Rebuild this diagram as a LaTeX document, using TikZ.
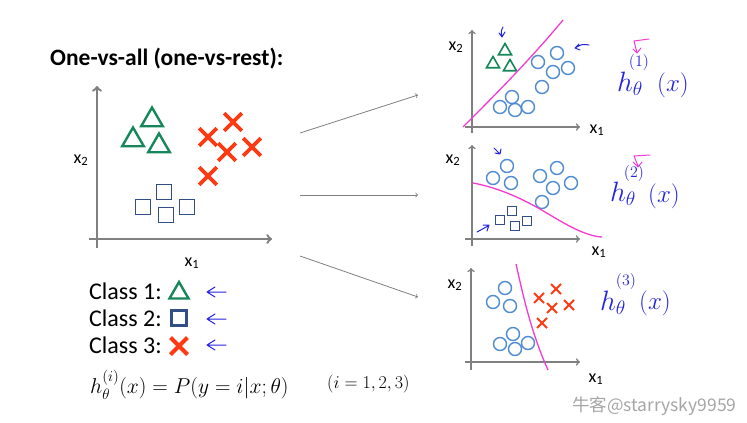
\RequirePackage{fix-cm}
\documentclass[tikz,border=0pt]{standalone}
\usepackage{amsmath}
\usepackage{fontspec}
\setmainfont{Carlito}
\newfontfamily\cjk{Noto Sans CJK SC}
\usetikzlibrary{shapes.geometric,shapes.misc}
\definecolor{axisgray}{RGB}{128,128,128}
\definecolor{trigreen}{RGB}{22,135,90}
\definecolor{crossred}{RGB}{255,58,18}
\definecolor{sqblue}{RGB}{50,78,135}
\definecolor{circblue}{RGB}{80,140,210}
\definecolor{bndpink}{RGB}{245,60,210}
\definecolor{penblue}{RGB}{35,35,225}

\begin{document}
\begin{tikzpicture}
[
	x=1pt, y=-1pt,
	axis/.style = {draw=axisgray, line width=2.4pt, ->},
	smallaxis/.style = {draw=axisgray, line width=1.6pt, ->},
	tri/.style = {regular polygon, regular polygon sides=3, draw=trigreen, line width=2.4pt, minimum size=25pt, inner sep=0pt},
	smalltri/.style = {regular polygon, regular polygon sides=3, draw=trigreen, line width=1.6pt, minimum size=15pt, inner sep=0pt},
	xmark/.style = {cross out, draw=crossred, line width=3.6pt, minimum size=14pt, inner sep=0pt},
	smallxmark/.style = {cross out, draw=crossred, line width=2pt, minimum size=8pt, inner sep=0pt},
	sq/.style = {rectangle, draw=sqblue, line width=1.8pt, minimum size=15pt, inner sep=0pt},
	smallsq/.style = {rectangle, draw=sqblue, line width=1.4pt, minimum size=9pt, inner sep=0pt},
	dot/.style = {circle, draw=circblue, line width=1.4pt, minimum size=13pt, inner sep=0pt},
	bound/.style = {bndpink, line width=1.3pt},
	pen/.style = {penblue, line width=1pt, line cap=round, line join=round},
	pinkpen/.style = {bndpink, line width=1pt, line cap=round, line join=round},
	lbl/.style = {font=\fontsize{18}{20}\selectfont, inner sep=0pt},
	cls/.style = {anchor=base west, inner sep=0pt, font=\fontsize{24}{26}\selectfont},
	hand/.style = {penblue, font=\fontsize{28}{30}\selectfont, inner sep=0pt},
	handx/.style = {penblue, font=\fontsize{25}{27}\selectfont, inner sep=0pt},
	handsup/.style = {penblue, font=\fontsize{16}{18}\selectfont, inner sep=0pt},
]
\useasboundingbox[fill=white] (0,0) rectangle (747,423);

% title
\node[anchor=base west, inner sep=0pt, font=\fontsize{23.5}{26}\selectfont\bfseries] (title) at (50,65) {One-vs-all (one-vs-rest):};

% main plot
\draw[axis] (97,248) -- (97,86);
\draw[axis] (89,239) -- (272,239);
\node[lbl, anchor=base] (mx1) at (192,266) {x\textsubscript{1}};
\node[lbl, anchor=base] (mx2) at (81,163) {x\textsubscript{2}};

\foreach \px/\py [count=\i] in {152/120,133/140,159/146}
	\node[tri] (t\i) at (\px,\py) {};
\foreach \px/\py [count=\i] in {208/137,233/122,227/152,252/147,208/176}
	\node[xmark] (c\i) at (\px,\py) {};
\foreach \px/\py [count=\i] in {143/207,164/192,166/215,187/207}
	\node[sq] (s\i) at (\px,\py) {};

% legend
\node[cls] (cls1) at (89,299) {Class 1:};
\node[cls] (cls2) at (89,326) {Class 2:};
\node[cls] (cls3) at (89,353) {Class 3:};
\node[tri, minimum size=22pt] (lt) at (179,293) {};
\node[sq, minimum size=15pt, line width=2.2pt] (ls) at (179,318) {};
\node[xmark, minimum size=13pt, line width=4pt] (lc) at (179,346) {};
\foreach \yy in {292,319,345}
	\draw[pen] (215,\yy-5) -- (207,\yy) -- (215,\yy+5) (208,\yy) -- (226,\yy);

\node[anchor=base west, inner sep=0pt, font=\fontsize{21.5}{24}\selectfont] (hyp) at (90,393) {$h_\theta^{(i)}(x) = P(y=i|x;\theta)$};
\node[anchor=base west, inner sep=0pt, font=\fontsize{18}{20}\selectfont] (idx) at (327,388) {$(i=1,2,3)$};

% arrows to the three classifiers
\coordinate (a1s) at (300,133);
\coordinate (a1e) at (418,95);
\coordinate (a2s) at (300,195);
\coordinate (a2e) at (418,195);
\coordinate (a3s) at (300,256);
\coordinate (a3e) at (418,297);
\draw[axisgray, line width=0.8pt, ->] (a1s) -- (a1e);
\draw[axisgray, line width=0.8pt, ->] (a2s) -- (a2e);
\draw[axisgray, line width=0.8pt, ->] (a3s) -- (a3e);

% classifier 1
\draw[smallaxis] (472,133) -- (472,30);
\draw[smallaxis] (465,127) -- (580,127);
\node[lbl, anchor=base] (ax2) at (456,50) {x\textsubscript{2}};
\node[lbl, anchor=base] (ax1) at (597,133) {x\textsubscript{1}};
\foreach \px/\py [count=\i] in {505/51,493/64,510/67}
	\node[smalltri] (at\i) at (\px,\py) {};
\foreach \px/\py [count=\i] in {557/53,538/62,553/72,568/68,542/87,512/97,500/107,515/110,528/107}
	\node[dot] (ad\i) at (\px,\py) {};
\coordinate (ab1) at (463,127);
\coordinate (ab2) at (563,20);
\draw[bound] (ab1) .. controls (490,100) and (530,60) .. (ab2);
\draw[pen] (503,27) .. controls (501,31) .. (502,37) (499,33) -- (502,37) -- (505,32);
\draw[pen] (589,45) .. controls (582,44) .. (575,48) (579,44) -- (575,48) -- (580,50);
\draw[pinkpen] (649,39) -- (634,41) -- (637,53) (633,49) -- (637,53) -- (641,48);
\node[hand] (h1) at (630,84) {$h_\theta$};
\node[handsup] (h1s) at (639,62) {$(1)$};
\node[handx] (h1x) at (673,85) {$(x)$};

% classifier 2
\draw[smallaxis] (472,246) -- (472,145);
\draw[smallaxis] (465,239) -- (580,239);
\node[lbl, anchor=base] (bx2) at (453,163) {x\textsubscript{2}};
\node[lbl, anchor=base] (bx1) at (599,255) {x\textsubscript{1}};
\foreach \px/\py [count=\i] in {507/166,493/178,511/183,557/168,540/176,553/188,571/183,542/202}
	\node[dot] (bd\i) at (\px,\py) {};
\foreach \px/\py [count=\i] in {512/211,500/220,515/226,527/221}
	\node[smallsq] (bs\i) at (\px,\py) {};
\coordinate (bb1) at (473,183);
\coordinate (bb2) at (602,237);
\draw[bound] (bb1) .. controls (500,188) and (525,200) .. (545,212) .. controls (565,224) and (585,236) .. (bb2);
\draw[pen] (494,148) .. controls (496,151) .. (499,153) (495,153) -- (500,154) -- (501,149);
\draw[pen] (477,232) -- (488,226) (483,225) -- (489,225) -- (487,231);
\draw[pinkpen] (650,155) -- (634,156) -- (638,166) (633,162) -- (638,167) -- (642,162);
\node[hand] (h2) at (623,194) {$h_\theta$};
\node[handsup] (h2s) at (634,173) {$(2)$};
\node[handx] (h2x) at (664,196) {$(x)$};

% classifier 3
\draw[smallaxis] (471,370) -- (471,268);
\draw[smallaxis] (465,362) -- (580,362);
\node[lbl, anchor=base] (cx2) at (455,288) {x\textsubscript{2}};
\node[lbl, anchor=base] (cx1) at (596,382) {x\textsubscript{1}};
\foreach \px/\py [count=\i] in {505/288,493/302,510/306,513/334,500/344,515/349,528/343}
	\node[dot] (cd\i) at (\px,\py) {};
\foreach \px/\py [count=\i] in {556/289,539/298,552/308,569/305,542/323}
	\node[smallxmark] (cc\i) at (\px,\py) {};
\coordinate (cb1) at (516,264);
\coordinate (cb2) at (548,370);
\draw[bound] (cb1) .. controls (522,290) and (530,330) .. (cb2);
\node[hand] (h3) at (613,303) {$h_\theta$};
\node[handsup] (h3s) at (626,281) {$(3)$};
\node[handx] (h3x) at (655,303) {$(x)$};

% watermark
\node[anchor=base west, inner sep=0pt, gray!70, font=\cjk\fontsize{17.5}{19}\selectfont] (wm) at (572,411) {牛客@starrysky9959};
\end{tikzpicture}
\end{document}
